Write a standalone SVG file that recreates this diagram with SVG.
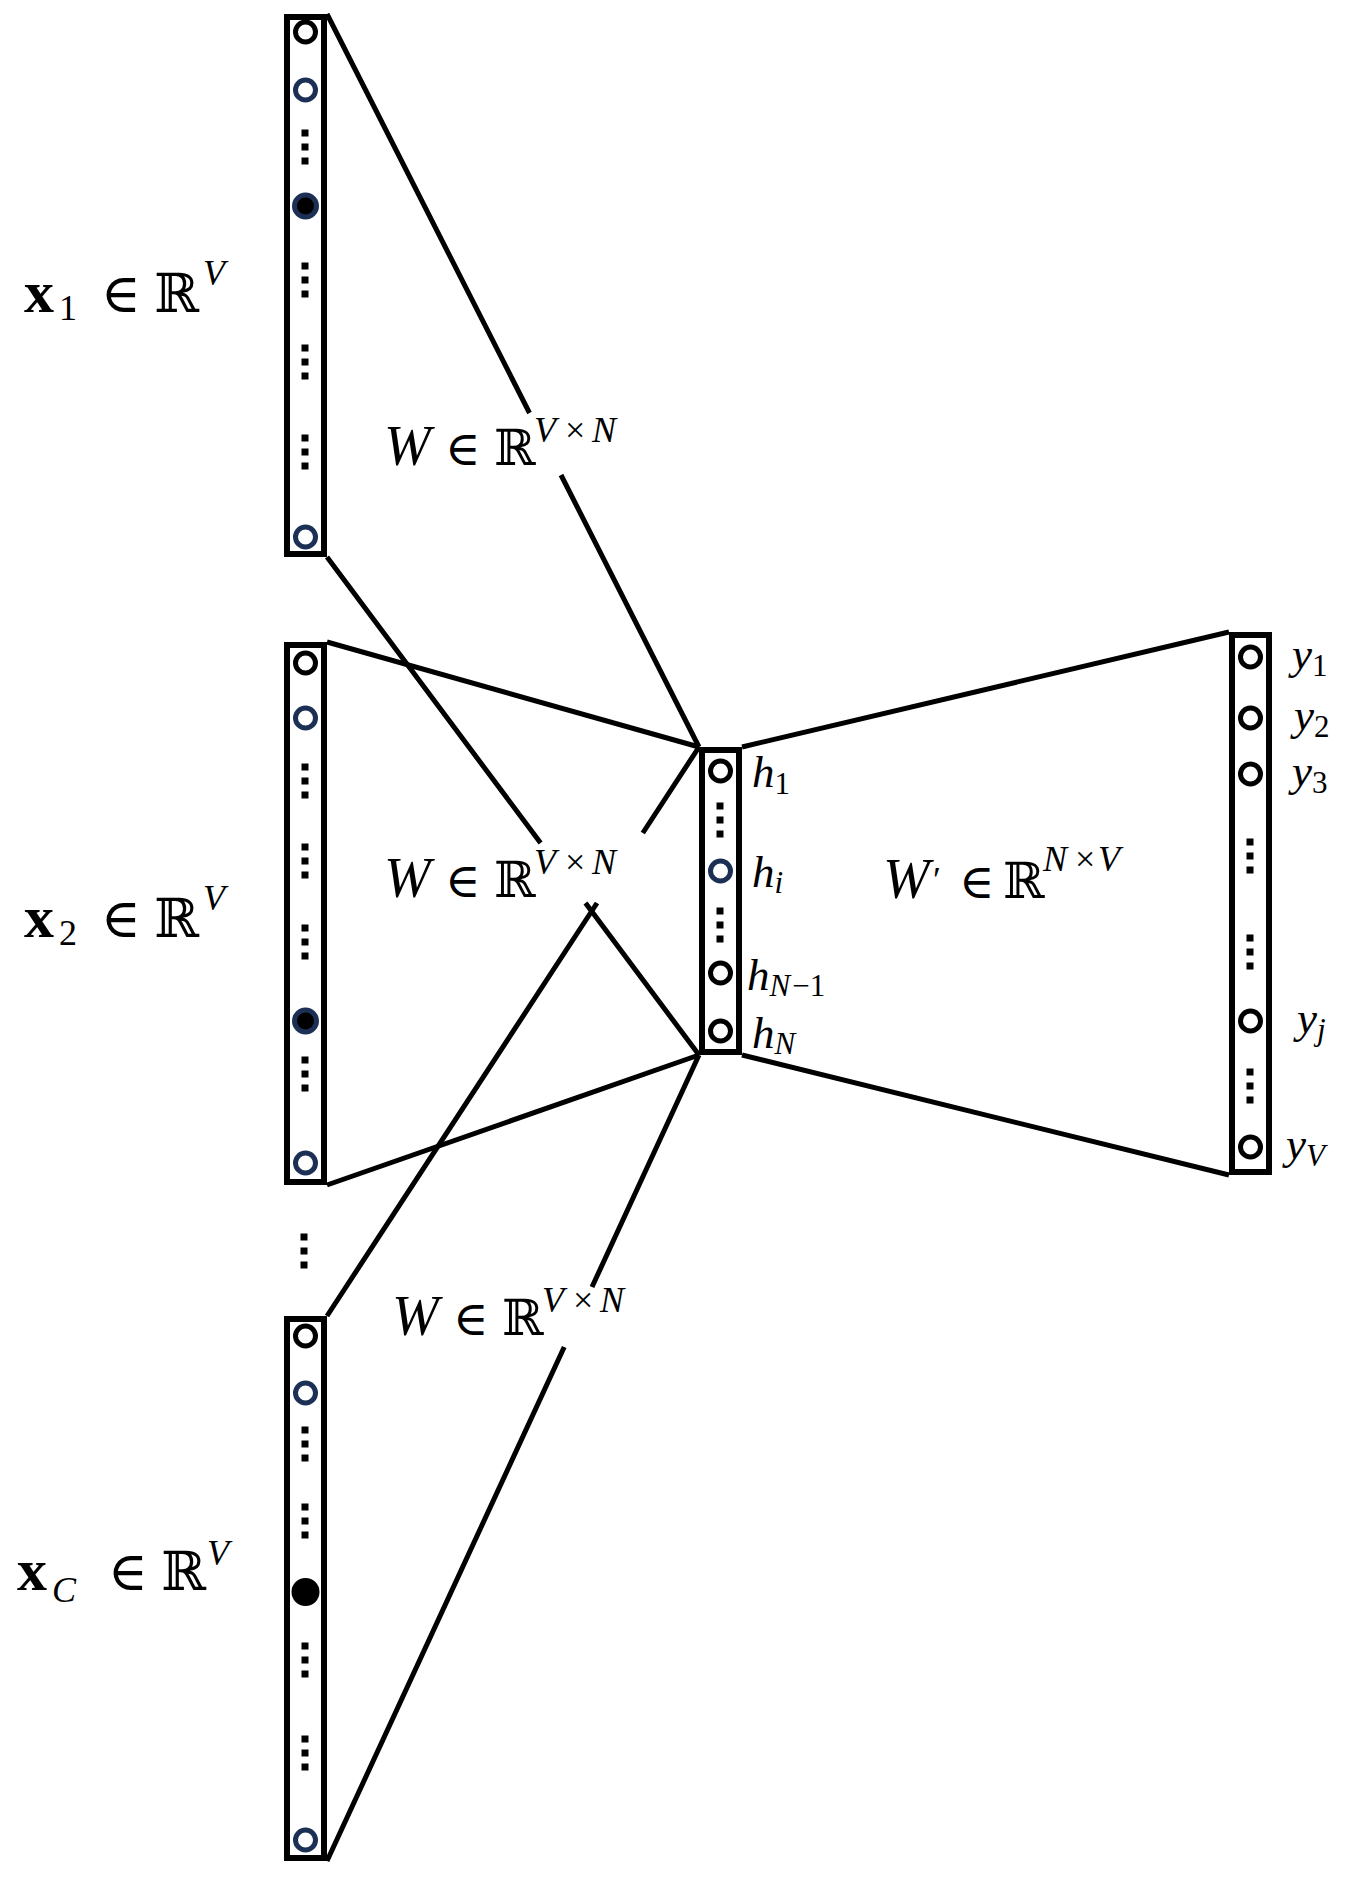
<svg xmlns="http://www.w3.org/2000/svg" width="1346" height="1880" viewBox="0 0 1346 1880">
<style>
.box{fill:none;stroke:#000;stroke-width:6}
.ck{fill:none;stroke:#000;stroke-width:5}
.cn{fill:none;stroke:#1c2f54;stroke-width:5}
.cf{fill:#000;stroke:#1c2f54;stroke-width:5}
.cb{fill:#000;stroke:#000;stroke-width:2}
.ln{stroke:#000;stroke-width:5;fill:none;stroke-linecap:butt}
text{font-family:"Liberation Serif","DejaVu Serif",serif;fill:#000}
.it{font-style:italic}
.m{font-size:56px}
.s{font-size:36px}
.sym{font-family:"DejaVu Serif",serif;font-size:48px}
.symx{font-family:"DejaVu Serif",serif;font-size:54px}
.bb{font-family:"DejaVu Serif",serif;font-size:50px}
.bbx{font-family:"DejaVu Serif",serif;font-size:54px}
.bx{font-weight:bold;font-size:60px}
.h{font-size:45px;font-style:italic}
.hs{font-size:31px}
</style>
<defs>
<g id="d3"><rect x="-3.5" y="-17.5" width="7" height="7"/><rect x="-3.5" y="-3.5" width="7" height="7"/><rect x="-3.5" y="10.5" width="7" height="7"/></g>
</defs>

<g id="connectors">
<path class="ln" d="M327,14 L529.5,413 M561,475 L699,747"/>
<path class="ln" d="M327,557 L540.6,843 M585.5,903 L699,1055"/>
<path class="ln" d="M327,642 L699,747"/>
<path class="ln" d="M327,1185 L699,1055"/>
<path class="ln" d="M327,1316 L597,903 M642.8,833 L699,747"/>
<path class="ln" d="M327,1861 L564.2,1347 M592,1287 L699,1055"/>
<path class="ln" d="M742,747 L1229,632"/>
<path class="ln" d="M742,1055 L1229,1175"/>
</g>

<g id="input1">
<rect class="box" x="287" y="17" width="37" height="537"/>
<circle class="ck" cx="305.5" cy="32" r="10"/>
<circle class="cn" cx="305.5" cy="90" r="10"/>
<use href="#d3" x="305" y="147"/>
<circle class="cf" cx="305.5" cy="206" r="11"/>
<use href="#d3" x="305" y="280"/>
<use href="#d3" x="305" y="362"/>
<use href="#d3" x="305" y="452"/>
<circle class="cn" cx="305.5" cy="537" r="10"/>
</g>

<g id="input2">
<rect class="box" x="287" y="645" width="37" height="537"/>
<circle class="ck" cx="305.5" cy="663" r="10"/>
<circle class="cn" cx="305.5" cy="718" r="10"/>
<use href="#d3" x="305" y="781"/>
<use href="#d3" x="305" y="861"/>
<use href="#d3" x="305" y="942"/>
<circle class="cf" cx="305.5" cy="1021" r="11"/>
<use href="#d3" x="305" y="1074"/>
<circle class="cn" cx="305.5" cy="1163" r="10"/>
</g>

<g id="ellipsis">
<use href="#d3" x="304" y="1251"/>
</g>

<g id="inputC">
<rect class="box" x="287" y="1319" width="37" height="539"/>
<circle class="ck" cx="305.5" cy="1336" r="10"/>
<circle class="cn" cx="305.5" cy="1393" r="10"/>
<use href="#d3" x="305" y="1444"/>
<use href="#d3" x="305" y="1521"/>
<circle class="cb" cx="305.5" cy="1592" r="13"/>
<use href="#d3" x="305" y="1660"/>
<use href="#d3" x="305" y="1753"/>
<circle class="cn" cx="305.5" cy="1840" r="10"/>
</g>

<g id="hidden">
<rect class="box" x="702" y="750" width="37" height="302"/>
<circle class="ck" cx="720.5" cy="771" r="10"/>
<use href="#d3" x="720" y="820"/>
<circle class="cn" cx="720.5" cy="871" r="10"/>
<use href="#d3" x="720" y="925"/>
<circle class="ck" cx="720.5" cy="973" r="10"/>
<circle class="ck" cx="720.5" cy="1031" r="10"/>
<text x="752" y="787" class="h">h<tspan class="hs" dy="7" font-style="normal">1</tspan></text>
<text x="752" y="887" class="h">h<tspan class="hs" dy="6">i</tspan></text>
<text x="747" y="990" class="h">h<tspan class="hs" dy="6">N</tspan><tspan class="hs" font-style="normal" dx="2">−1</tspan></text>
<text x="752" y="1048" class="h">h<tspan class="hs" dy="6">N</tspan></text>
</g>

<g id="output">
<rect class="box" x="1232" y="635" width="37" height="537"/>
<circle class="ck" cx="1250.5" cy="657" r="10"/>
<circle class="ck" cx="1250.5" cy="718" r="10"/>
<circle class="ck" cx="1250.5" cy="774" r="10"/>
<use href="#d3" x="1250" y="856"/>
<use href="#d3" x="1250" y="952"/>
<circle class="ck" cx="1250.5" cy="1021" r="10"/>
<use href="#d3" x="1250" y="1086"/>
<circle class="ck" cx="1250.5" cy="1147" r="10"/>
<text x="1292" y="669" class="h">y<tspan class="hs" dy="7" font-style="normal">1</tspan></text>
<text x="1294" y="730" class="h">y<tspan class="hs" dy="7" font-style="normal">2</tspan></text>
<text x="1292" y="786" class="h">y<tspan class="hs" dy="7" font-style="normal">3</tspan></text>
<text x="1297" y="1033" class="h">y<tspan class="hs" dy="7">j</tspan></text>
<text x="1286" y="1159" class="h">y<tspan class="hs" dy="7">V</tspan></text>
</g>

<g id="label-x1">
<text x="24" y="312" class="bx">x</text>
<text x="59" y="320" class="s">1</text>
<text x="101" y="312" class="symx">∈</text>
<text x="154" y="312" class="bbx">ℝ</text>
<text x="203" y="285" class="s it">V</text>
</g>
<g id="label-x2">
<text x="24" y="937" class="bx">x</text>
<text x="59" y="945" class="s">2</text>
<text x="101" y="937" class="symx">∈</text>
<text x="154" y="937" class="bbx">ℝ</text>
<text x="203" y="910" class="s it">V</text>
</g>
<g id="label-xC">
<text x="17" y="1590" class="bx">x</text>
<text x="52" y="1602" class="s it">C</text>
<text x="108" y="1590" class="symx">∈</text>
<text x="161" y="1590" class="bbx">ℝ</text>
<text x="207" y="1565" class="s it">V</text>
</g>

<g id="label-W1" transform="translate(384,465)">
<text x="0" y="0" class="m it">W</text>
<text x="61" y="0" class="sym">∈</text>
<text x="110" y="0" class="bb">ℝ</text>
<text x="150" y="-23" class="s it">V</text>
<text x="181" y="-23" class="s">×</text>
<text x="208" y="-23" class="s it">N</text>
</g>
<g id="label-W2" transform="translate(384,897)">
<text x="0" y="0" class="m it">W</text>
<text x="61" y="0" class="sym">∈</text>
<text x="110" y="0" class="bb">ℝ</text>
<text x="150" y="-23" class="s it">V</text>
<text x="181" y="-23" class="s">×</text>
<text x="208" y="-23" class="s it">N</text>
</g>
<g id="label-W3" transform="translate(392,1335)">
<text x="0" y="0" class="m it">W</text>
<text x="61" y="0" class="sym">∈</text>
<text x="110" y="0" class="bb">ℝ</text>
<text x="150" y="-23" class="s it">V</text>
<text x="181" y="-23" class="s">×</text>
<text x="208" y="-23" class="s it">N</text>
</g>
<g id="label-Wp" transform="translate(883,898)">
<text x="0" y="0" class="m it">W</text>
<text x="50" y="-6" class="s">′</text>
<text x="76" y="0" class="sym">∈</text>
<text x="120" y="0" class="bb">ℝ</text>
<text x="160" y="-27" class="s it">N</text>
<text x="192" y="-27" class="s">×</text>
<text x="215" y="-27" class="s it">V</text>
</g>
</svg>
